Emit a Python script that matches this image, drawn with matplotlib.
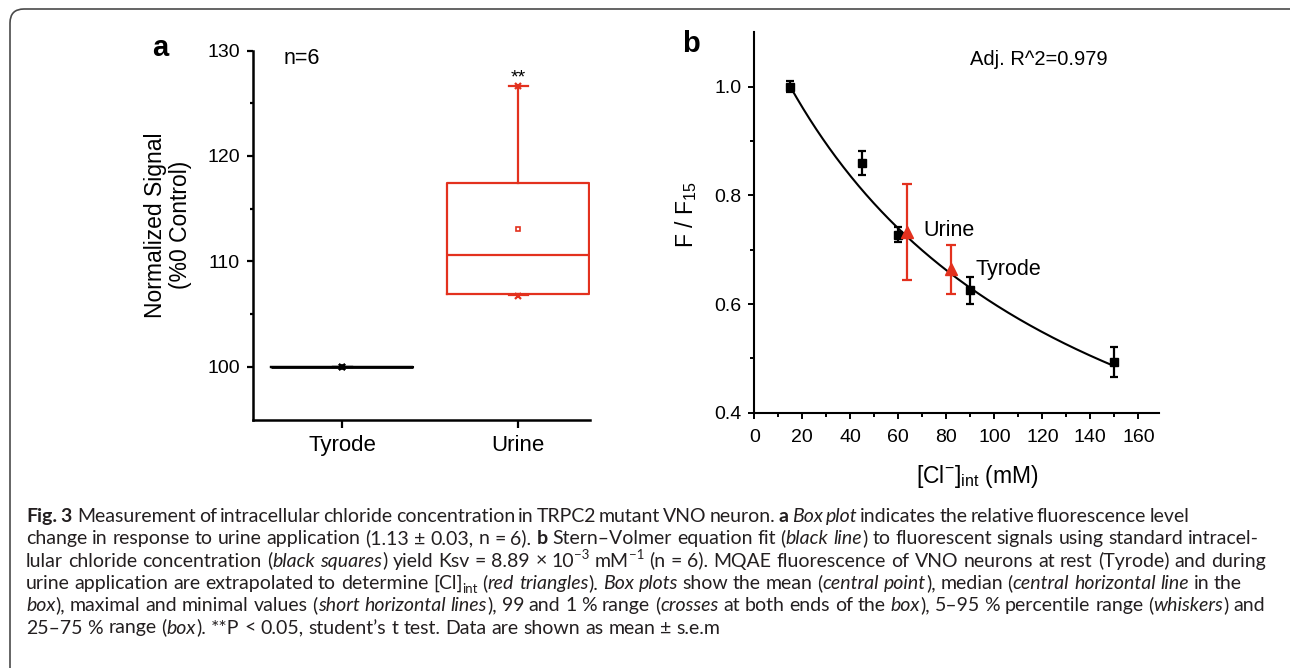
import re
import numpy as np
import matplotlib
matplotlib.use('Agg')
import matplotlib.pyplot as plt
from matplotlib.patches import FancyBboxPatch
from matplotlib.transforms import IdentityTransform
from matplotlib.ticker import MultipleLocator, FixedLocator

# ---------------- data ----------------
# Panel a (box plot, % of control)
groups = ['Tyrode', 'Urine']
box_q1 = [100.0, 106.9]
box_med = [100.0, 110.6]
box_q3 = [100.0, 117.4]
box_mean = [100.0, 113.1]
whisk_lo = [100.0, 106.8]
whisk_hi = [100.0, 126.6]
pct_99 = [100.0, 126.6]
pct_1 = [100.0, 106.7]
n_text = 'n=6'
sig_text = '**'

# Panel b (Stern-Volmer calibration)
cl_conc = [15, 45, 60, 90, 150]
f_ratio = [1.0, 0.860, 0.728, 0.625, 0.493]
f_err = [0.010, 0.022, 0.013, 0.025, 0.028]
cond_names = ['Urine', 'Tyrode']
cond_conc = [63.5, 82.0]
cond_ratio = [0.733, 0.664]
cond_err = [0.088, 0.045]
ksv = 8.89e-3
r2_text = 'Adj. R^2=0.979'

caption_lines = [
    "{b:Fig. 3}  Measurement of intracellular chloride concentration in TRPC2 mutant VNO neuron. {b:a} {i:Box plot} indicates the relative fluorescence level",
    "change in response to urine application (1.13 \u00b1 0.03, n = 6). {b:b} Stern\u2013Volmer equation fit ({i:black line}) to fluorescent signals using standard intracel-",
    "lular chloride concentration ({i:black squares}) yield Ksv = 8.89 \u00d7 10{u:\u22123} mM{u:\u22121} (n = 6). MQAE fluorescence of VNO neurons at rest (Tyrode) and during",
    "urine application are extrapolated to determine [Cl]{d:int} ({i:red triangles}). {i:Box plots} show the mean ({i:central point}), median ({i:central horizontal line} in the",
    "{i:box}), maximal and minimal values ({i:short horizontal lines}), 99 and 1 % range ({i:crosses} at both ends of the {i:box}), 5\u201395 % percentile range ({i:whiskers}) and",
    "25\u201375 % range ({i:box}). **P < 0.05, student\u2019s t test. Data are shown as mean \u00b1 s.e.m",
]

# ---------------- style ----------------
RED = '#E3311E'
plt.rcParams['font.family'] = ['Liberation Sans', 'DejaVu Sans']
plt.rcParams['mathtext.fontset'] = 'custom'
plt.rcParams['mathtext.rm'] = 'Liberation Sans'
plt.rcParams['mathtext.it'] = 'Liberation Sans:italic'
plt.rcParams['mathtext.bf'] = 'Liberation Sans:bold'

W, H = 1290, 668
fig = plt.figure(figsize=(W / 100, H / 100), dpi=100)


def fx(x):
    return x / W


def fy(y):
    return 1 - y / H


# border
border = FancyBboxPatch((10, -14), 1300, 668 - 9 + 14,
                        boxstyle="round,pad=0,rounding_size=14",
                        transform=IdentityTransform(), fill=False,
                        edgecolor='#4a4a4a', linewidth=1.2)
fig.add_artist(border)

# ---------------- panel a ----------------
axa = fig.add_axes([fx(253), fy(419.5), (590 - 253) / W, (419.5 - 50.5) / H])
positions = [1, 2]
colors = ['black', RED]
for i in range(2):
    st = [dict(med=box_med[i], q1=box_q1[i], q3=box_q3[i], whislo=whisk_lo[i],
               whishi=whisk_hi[i], mean=box_mean[i], fliers=[pct_99[i], pct_1[i]])]
    c = colors[i]
    axa.bxp(st, positions=[positions[i]], widths=0.807, showmeans=True,
            showfliers=True, manage_ticks=False, capwidths=0.11,
            boxprops=dict(color=c, linewidth=1.6),
            whiskerprops=dict(color=c, linewidth=1.6),
            capprops=dict(color=c, linewidth=1.6),
            medianprops=dict(color=c, linewidth=1.6 if i else 2.0),
            meanprops=dict(marker='s', markerfacecolor='white' if i else c,
                           markeredgecolor=c, markersize=3.5, markeredgewidth=1.2),
            flierprops=dict(marker='x', markeredgecolor=c, markersize=5,
                            markeredgewidth=1.6, linestyle='none'))
axa.set_xlim(0.493, 2.407)
axa.set_ylim(95, 130)
axa.set_xticks(positions)
axa.set_xticklabels(groups)
axa.yaxis.set_major_locator(FixedLocator([100, 110, 120, 130]))
axa.yaxis.set_minor_locator(FixedLocator([105, 115, 125]))
for s in ['top', 'right']:
    axa.spines[s].set_visible(False)
for s in ['left', 'bottom']:
    axa.spines[s].set_linewidth(1.8)
axa.tick_params(axis='y', which='major', direction='out', length=4.5, width=1.6,
                labelsize=14, pad=5)
axa.tick_params(axis='y', which='minor', direction='out', length=2.5, width=1.6)
axa.tick_params(axis='x', which='major', direction='out', length=5.5, width=1.6,
                labelsize=16, pad=6)
axa.text(0.665, 128.75, n_text, fontsize=15.5, ha='left', va='baseline')
axa.text(2, 127.0, sig_text, fontsize=14, ha='center', va='baseline')
fig.text(fx(168), fy(225), 'Normalized Signal\n(%0 Control)', rotation=90,
         ha='center', va='center', fontsize=16.5, linespacing=1.15)
fig.text(fx(152), fy(56), 'a', fontsize=21, fontweight='bold', ha='left', va='baseline')

# ---------------- panel b ----------------
axb = fig.add_axes([fx(754.3), fy(412.7), (1159 - 754.3) / W, (412.7 - 32.4) / H])
xfit = np.linspace(cl_conc[0], cl_conc[-1], 300)
yfit = (1 + ksv * cl_conc[0]) / (1 + ksv * xfit)
axb.plot(xfit, yfit, color='black', linewidth=1.5, zorder=2)
axb.errorbar(cl_conc, f_ratio, yerr=f_err, fmt='s', color='black', markersize=5.5,
             elinewidth=1.6, capsize=3, capthick=1.6, zorder=3)
axb.errorbar(cond_conc, cond_ratio, yerr=cond_err, fmt='^', color=RED, markersize=8,
             elinewidth=1.6, capsize=3.3, capthick=1.6, zorder=4)
axb.set_xlim(0, 168.6)
axb.set_ylim(0.4, 1.1)
axb.xaxis.set_major_locator(MultipleLocator(20))
axb.xaxis.set_minor_locator(MultipleLocator(10))
axb.yaxis.set_major_locator(FixedLocator([0.4, 0.6, 0.8, 1.0]))
axb.yaxis.set_minor_locator(FixedLocator([0.5, 0.7, 0.9]))
axb.set_yticklabels(['0.4', '0.6', '0.8', '1.0'])
for s in ['top', 'right']:
    axb.spines[s].set_visible(False)
for s in ['left', 'bottom']:
    axb.spines[s].set_linewidth(1.5)
axb.tick_params(axis='both', which='major', direction='out', length=4.5, width=1.4,
                labelsize=14)
axb.tick_params(axis='y', which='major', pad=4.5)
axb.tick_params(axis='x', which='major', pad=7)
axb.tick_params(axis='both', which='minor', direction='out', length=3, width=1.4)
axb.text(89.9, 1.040, r2_text, fontsize=14.5, ha='left', va='baseline')
axb.text(70.4, 0.725, cond_names[0], fontsize=15.5, ha='left', va='baseline')
axb.text(92.0, 0.653, cond_names[1], fontsize=15.5, ha='left', va='baseline')
fig.text(fx(686), fy(215), r'F / F$_{15}$', rotation=90, ha='center', va='center',
         fontsize=16.5)
fig.text(fx(977), fy(477), r'[Cl$^{-}$]$_{\mathrm{int}}$ (mM)', ha='center',
         va='center', fontsize=16.5)
fig.text(fx(682), fy(52), 'b', fontsize=21, fontweight='bold', ha='left', va='baseline')

# ---------------- caption ----------------
CAP_FAMILY = ['Lato', 'DejaVu Sans']
CAP_COLOR = '#231f20'
renderer = fig.canvas.get_renderer()


def parse(line):
    pieces = []
    pos = 0
    for m in re.finditer(r'\{([biud]):([^}]*)\}', line):
        if m.start() > pos:
            pieces.append((line[pos:m.start()], 'n'))
        pieces.append((m.group(2), m.group(1)))
        pos = m.end()
    if pos < len(line):
        pieces.append((line[pos:], 'n'))
    words = [[]]
    for text, st in pieces:
        parts = text.split(' ')
        for k, p in enumerate(parts):
            if k > 0:
                words.append([])
            if p:
                words[-1].append((p, st))
    return words


def props(st, size):
    d = dict(family=CAP_FAMILY, fontsize=size, color=CAP_COLOR)
    if st == 'b':
        d['fontweight'] = 'bold'
    elif st == 'i':
        d['fontstyle'] = 'italic'
    elif st in ('u', 'd'):
        d['fontsize'] = size * 0.68
    return d


def width_of(text, st, size):
    t = fig.text(0, 0, text, **props(st, size))
    w = t.get_window_extent(renderer).width
    t.remove()
    return w


def space_w(size):
    return width_of('x x', 'n', size) - width_of('xx', 'n', size)


def word_w(word, size):
    return sum(width_of(p, s, size) for p, s in word)


def line_natural(words, size):
    return sum(word_w(w, size) for w in words) + space_w(size) * (len(words) - 1)


cap_left = 26
cap_targets = [1176, 1259, 1266, 1242, 1265, None]
cap_fit_ends = [None, 1259, 1266, 1242, 1265, 705]
cap_base0 = 522
cap_step = 22.3

parsed = [parse(l) for l in caption_lines]
size0 = 12.0
fit_idx = [k for k in range(6) if cap_fit_ends[k] is not None]
nat_total = sum(line_natural(parsed[k], size0) for k in fit_idx)
tgt_total = sum(cap_fit_ends[k] - cap_left for k in fit_idx)
cap_size = size0 * tgt_total / nat_total

for li, words in enumerate(parsed):
    base = cap_base0 + li * cap_step
    sw = space_w(cap_size)
    gap = sw
    if cap_targets[li] is not None and len(words) > 1:
        natw = line_natural(words, cap_size)
        gap = sw + (cap_targets[li] - cap_left - natw) / (len(words) - 1)
        gap = max(gap, sw * 0.6)
    x = cap_left
    for w in words:
        for p, s in w:
            yoff = 0
            if s == 'u':
                yoff = -cap_size * 1.389 * 0.38
            elif s == 'd':
                yoff = cap_size * 1.389 * 0.2
            fig.text(fx(x), fy(base + yoff), p, ha='left', va='baseline', **props(s, cap_size))
            x += width_of(p, s, cap_size)
        x += gap

fig.savefig('out.png', dpi=100)
